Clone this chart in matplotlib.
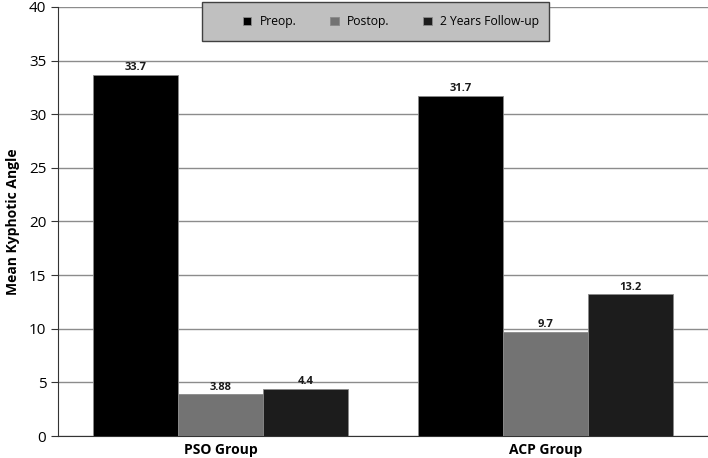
import matplotlib
matplotlib.use("Agg")
import matplotlib.pyplot as plt
from matplotlib.patches import Rectangle
import numpy as np

categories = ["PSO Group", "ACP Group"]
series_names = ["Preop.", "Postop.", "2 Years Follow-up"]
preop = [33.7, 31.7]
postop = [3.88, 9.7]
followup = [4.4, 13.2]
value_labels = [["33.7", "31.7"], ["3.88", "9.7"], ["4.4", "13.2"]]
colors = ["#000000", "#737373", "#1c1c1c"]

plt.rcParams['font.family'] = ['Open Sans', 'DejaVu Sans']

fig = plt.figure(figsize=(7.08, 4.58), dpi=100)
ax = fig.add_axes([58/708, 22/458, 650/708, 429/458])

x = np.arange(len(categories))
w = 0.262
data = [preop, postop, followup]
for i, (vals, col, name) in enumerate(zip(data, colors, series_names)):
    pos = x + (i - 1) * w
    ax.bar(pos, vals, width=w, color=col, edgecolor="#8a8a8a", linewidth=0.6,
           label=name, zorder=3)
    for px, v, lab in zip(pos, vals, value_labels[i]):
        ax.text(px, v + 0.15, lab, ha="center", va="bottom", fontsize=8,
                fontweight="bold", color="#1a1a1a")

ax.set_xlim(-0.5, 1.5)
ax.set_ylim(0, 40)
ax.set_yticks(range(0, 41, 5))
ax.yaxis.grid(True, color="#8c8c8c", linewidth=1.0, zorder=0)
ax.set_axisbelow(True)
ax.set_xticks(x)
ax.set_xticklabels(categories, fontsize=10, fontweight="bold")
ax.tick_params(axis="x", length=0, pad=5)
ax.tick_params(axis="y", length=5, labelsize=11, direction="out", color="#333333")
for s in ["top", "right"]:
    ax.spines[s].set_visible(False)
ax.spines["left"].set_color("#333333")
ax.spines["bottom"].set_color("#333333")
ax.set_ylabel("Mean Kyphotic Angle", fontsize=10, fontweight="bold", labelpad=6)

# legend frame drawn separately
fig.patches.append(Rectangle((202/708, 1 - 41/458), 347/708, 39/458,
                             transform=fig.transFigure, facecolor="#c0c0c0",
                             edgecolor="#404040", linewidth=1.0, zorder=5))
leg = fig.legend(loc="center", bbox_to_anchor=(391/708, 1 - 21.5/458), ncol=3,
                 frameon=False, fontsize=8.7, handlelength=0.7,
                 handleheight=0.7, columnspacing=2.8, handletextpad=0.7,
                 borderpad=0, borderaxespad=0)
leg.set_zorder(6)

fig.savefig("out.png", dpi=100)
